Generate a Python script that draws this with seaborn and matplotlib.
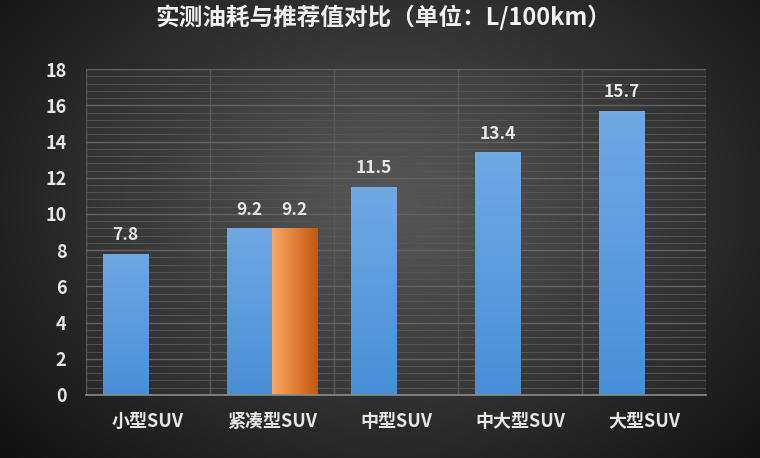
import numpy as np
import pandas as pd
import matplotlib
matplotlib.use("Agg")
import matplotlib.pyplot as plt
import seaborn as sns
from matplotlib.ticker import MultipleLocator

categories = ["小型SUV", "紧凑型SUV", "中型SUV", "中大型SUV", "大型SUV"]
measured = [7.8, 9.2, 11.5, 13.4, 15.7]
recommended = [np.nan, 9.2, np.nan, np.nan, np.nan]
series_names = ["实测油耗", "推荐值"]
title = "实测油耗与推荐值对比（单位：L/100km）"

df = pd.DataFrame({
    "category": categories * 2,
    "value": measured + recommended,
    "series": [series_names[0]] * len(categories) + [series_names[1]] * len(categories),
})

sns.set_theme(style="dark")
plt.rcParams['font.family'] = ['Noto Sans CJK SC', 'DejaVu Sans']
plt.rcParams['axes.unicode_minus'] = False

fig = plt.figure(figsize=(7.6, 4.58), dpi=100)

# radial background
bg = fig.add_axes([0, 0, 1, 1], zorder=-10)
yy, xx = np.mgrid[0:458, 0:760]
r = np.sqrt(((xx - 390) / 520.0) ** 2 + ((yy - 200) / 380.0) ** 2)
v = np.clip(1 - r, 0, 1)
shade = 0.07 + 0.25 * v
bg.imshow(np.dstack([shade, shade, shade]), aspect='auto', extent=[0, 1, 0, 1], origin='upper')
bg.set_axis_off()

ax = fig.add_axes([0.113, 0.1376, 0.816, 0.7114])
sns.barplot(data=df, x="category", y="value", hue="series", ax=ax,
            palette=["#5B9BD5", "#ED7D31"], width=0.73, saturation=1,
            edgecolor="#2f3b48", linewidth=0.8, legend=False)

ax.set_facecolor((1, 1, 1, 0.04))
ax.set_ylim(0, 18)
ax.set_xlim(-0.5, len(categories) - 0.5)
ax.yaxis.set_major_locator(MultipleLocator(2))
ax.yaxis.set_minor_locator(MultipleLocator(0.4))
ax.xaxis.set_minor_locator(MultipleLocator(1.0, offset=0.5))
ax.grid(False)
ax.grid(which='major', axis='y', color='#626262', linewidth=1.0)
ax.grid(which='minor', axis='y', color='#575757', linewidth=0.6)
ax.grid(which='minor', axis='x', color='#585858', linewidth=1.0)
ax.set_axisbelow(True)
for s in ["top", "right", "left"]:
    ax.spines[s].set_visible(False)
ax.spines["bottom"].set_color("#8c8c8c")
ax.spines["bottom"].set_linewidth(1.2)
ax.tick_params(axis='both', which='both', length=0)
ax.tick_params(axis='y', pad=14, labelsize=13, labelcolor='#e6e6e6')
ax.tick_params(axis='x', pad=12, labelsize=13, labelcolor='#e6e6e6')
for lab in ax.get_xticklabels() + ax.get_yticklabels():
    lab.set_fontweight('bold')
ax.set_xlabel("")
ax.set_ylabel("")

# gradient fills clipped to bars
fig.canvas.draw()
for ci, cont in enumerate(ax.containers):
    for patch in cont.patches:
        h = patch.get_height()
        if not np.isfinite(h) or h <= 0:
            continue
        x0 = patch.get_x(); w = patch.get_width()
        if ci == 0:
            top = np.array([0.44, 0.66, 0.89]); bot = np.array([0.28, 0.56, 0.84])
            t = np.linspace(0, 1, 64)[:, None]
            img = (top[None, :] * (1 - t) + bot[None, :] * t)[:, None, :]
            img = np.repeat(img, 8, axis=1)
        else:
            left = np.array([0.97, 0.66, 0.40]); right = np.array([0.78, 0.34, 0.05])
            t = np.linspace(0, 1, 64)[None, :]
            img = (left[None, :] * (1 - t.T) + right[None, :] * t.T)[None, :, :]
            img = np.repeat(img, 8, axis=0)
        im = ax.imshow(img, extent=[x0, x0 + w, 0, h], aspect='auto', zorder=patch.get_zorder() + 0.1,
                       origin='upper', interpolation='bilinear')
        im.set_clip_path(patch)
    ax.bar_label(cont, labels=[("" if not np.isfinite(p.get_height()) else f"{p.get_height():.1f}") for p in cont.patches],
                 padding=7, color='#e6e6e6', fontsize=12.5, fontweight='bold')

ax.set_xlim(-0.5, len(categories) - 0.5)
ax.set_ylim(0, 18)

fig.text(0.505, 0.962, title, ha='center', va='center', fontsize=17, fontweight='bold', color='#f2f2f2')

fig.savefig("out.png", dpi=100)
